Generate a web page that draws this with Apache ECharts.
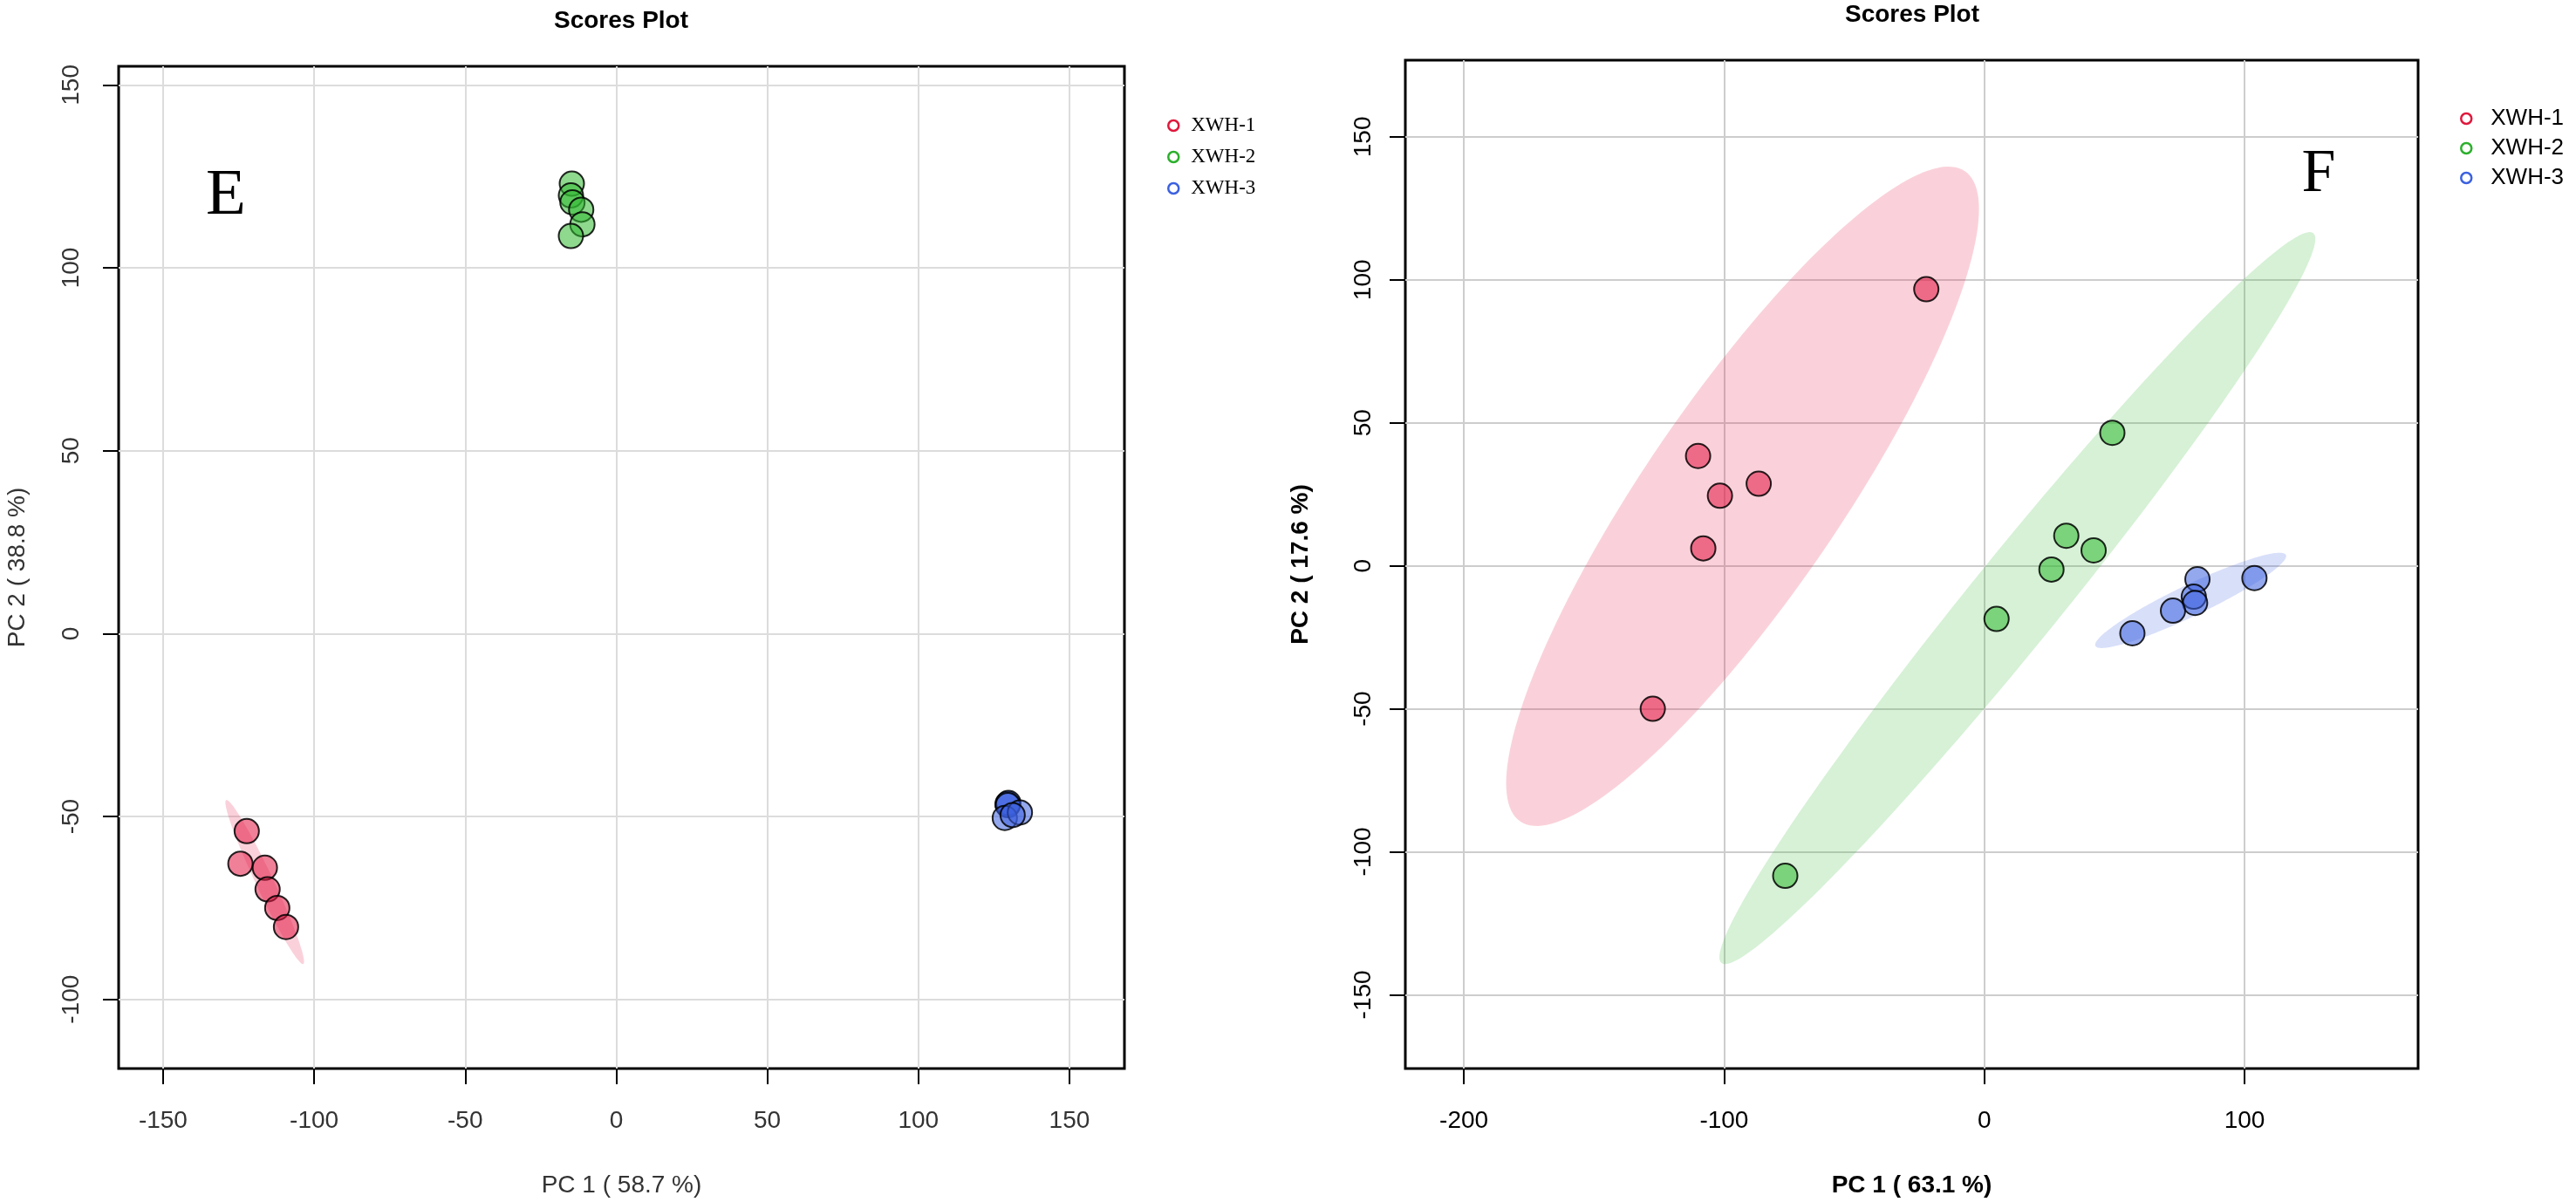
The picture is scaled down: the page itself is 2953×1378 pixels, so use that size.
<!DOCTYPE html>
<html><head><meta charset="utf-8">
<script src="https://cdn.jsdelivr.net/npm/echarts@6/dist/echarts.min.js"></script>
<style>html,body{margin:0;padding:0;background:#fff}#c{width:2953px;height:1378px}</style>
</head><body><div id="c"></div>
<script>
// ---------- data ----------
const groupNames = ['XWH-1', 'XWH-2', 'XWH-3'];

// Panel E  (PC1 58.7 %, PC2 38.8 %)
const E_pc1_XWH1 = [-122.3, -124.4, -116.3, -115.4, -112.2, -109.3];
const E_pc2_XWH1 = [-54.0, -62.9, -64.0, -69.9, -75.0, -80.2];
const E_pc1_XWH2 = [-14.7, -15.0, -14.5, -11.6, -11.2, -15.0];
const E_pc2_XWH2 = [123.0, 119.8, 117.9, 115.9, 111.9, 108.7];
const E_pc1_XWH3 = [129.5, 129.8, 129.6, 128.6, 133.6, 131.2];
const E_pc2_XWH3 = [-46.6, -46.3, -46.9, -50.4, -48.9, -49.6];

// Panel F  (PC1 63.1 %, PC2 17.6 %)
const F_pc1_XWH1 = [-22.3, -110.0, -86.7, -101.6, -108.0, -127.4];
const F_pc2_XWH1 = [96.7, 38.4, 28.7, 24.5, 6.1, -50.0];
const F_pc1_XWH2 = [49.2, 31.5, 42.0, 25.8, 4.7, -76.5];
const F_pc2_XWH2 = [46.5, 10.5, 5.4, -1.3, -18.6, -108.4];
const F_pc1_XWH3 = [103.8, 81.9, 80.5, 81.0, 72.5, 56.9];
const F_pc2_XWH3 = [-4.3, -4.7, -10.8, -13.0, -15.7, -23.6];

// confidence ellipses: [centre PC1, centre PC2, semi-axis1 (dPC1, dPC2), semi-axis2 (dPC1, dPC2)]
const E_ellipse_XWH1 = [-116.35, -67.9, 12.75, -22.4, 2.61, 1.01];
const F_ellipse_XWH1 = [-92.9, 24.3, 85.4, 113.7, 31.0, -19.05];
const F_ellipse_XWH2 = [12.7, -11.3, 113.7, 127.6, 13.5, -9.85];
const F_ellipse_XWH3 = [79.3, -12.1, 36.6, 15.9, 2.63, -4.94];

// tick labels
const E_xTicks = [-150, -100, -50, 0, 50, 100, 150];
const E_yTicks = [-100, -50, 0, 50, 100, 150];
const F_xTicks = [-200, -100, 0, 100];
const F_yTicks = [-150, -100, -50, 0, 50, 100, 150];

// ---------- styles ----------
const ptFill = ['rgba(228,24,68,0.55)', 'rgba(50,186,50,0.55)', 'rgba(60,97,224,0.55)'];
const ellFill = ['rgba(228,24,68,0.2)', 'rgba(50,186,50,0.2)', 'rgba(60,97,224,0.2)'];
const legCol = ['#E0183C', '#2CB02C', '#3C61E0'];

function zip(a, b) { return a.map((v, i) => [v, b[i]]); }

function scatter(name, xs, ys, gi, k) {
  return {
    type: 'scatter', name: name, xAxisIndex: gi, yAxisIndex: gi,
    data: zip(xs, ys), symbol: 'circle', symbolSize: 28, z: 3,
    itemStyle: { color: ptFill[k], borderColor: 'rgba(0,0,0,0.85)', borderWidth: 2, opacity: 1 },
    emphasis: { disabled: true }
  };
}

function ellipse(name, params, gi, k) {
  return {
    type: 'custom', name: name, xAxisIndex: gi, yAxisIndex: gi, z: 1, silent: true, clip: true,
    data: [params], encode: { x: 0, y: 1 },
    renderItem: function (p, api) {
      const cx = api.value(0), cy = api.value(1), ux = api.value(2), uy = api.value(3), vx = api.value(4), vy = api.value(5);
      const pts = [];
      const n = 180;
      for (let i = 0; i < n; i++) {
        const t = i / n * Math.PI * 2;
        pts.push(api.coord([cx + Math.cos(t) * ux + Math.sin(t) * vx, cy + Math.cos(t) * uy + Math.sin(t) * vy]));
      }
      return { type: 'polygon', shape: { points: pts }, style: { fill: ellFill[k], stroke: null } };
    }
  };
}

function xAxisDef(gi, min, max, ticks, name, bold, col, gridCol) {
  return {
    gridIndex: gi, type: 'value', min: min, max: max,
    axisLine: { show: false, onZero: false },
    axisTick: { show: true, inside: false, length: 18, customValues: ticks, lineStyle: { color: '#000', width: 2 } },
    axisLabel: { customValues: ticks, margin: 46, fontSize: 28, color: col, fontFamily: 'Liberation Sans' },
    splitLine: { show: true, lineStyle: { color: gridCol, width: 2 } },
    name: name, nameLocation: 'middle', nameGap: 120,
    nameTextStyle: { fontSize: 28, color: col, fontFamily: 'Liberation Sans', fontWeight: bold ? 'bold' : 'normal' }
  };
}
function yAxisDef(gi, min, max, ticks, name, bold, col, gridCol, margin, gap) {
  return {
    gridIndex: gi, type: 'value', min: min, max: max,
    axisLine: { show: false, onZero: false },
    axisTick: { show: true, inside: false, length: 18, customValues: ticks, lineStyle: { color: '#000', width: 2 } },
    axisLabel: { customValues: ticks, margin: margin, rotate: 90, fontSize: 28, color: col, fontFamily: 'Liberation Sans' },
    splitLine: { show: true, lineStyle: { color: gridCol, width: 2 } },
    name: name, nameLocation: 'middle', nameGap: gap,
    nameTextStyle: { fontSize: 28, color: col, fontFamily: 'Liberation Sans', fontWeight: bold ? 'bold' : 'normal' }
  };
}

function legendDef(left, top, family, size, lh, gap, pad) {
  return {
    left: left, top: top, orient: 'vertical', padding: 0, selectedMode: false,
    itemWidth: 12, itemHeight: 12, itemGap: gap,
    data: groupNames.map((n, i) => ({ name: n, icon: 'circle', itemStyle: { color: 'rgba(255,255,255,0)', borderColor: legCol[i], borderWidth: 2.5 } })),
    textStyle: { fontFamily: family, fontSize: size, color: '#000', lineHeight: lh, padding: [0, 0, 0, pad] }
  };
}

const chart = echarts.init(document.getElementById('c'), null, { renderer: 'canvas' });
chart.setOption({
  animation: false,
  backgroundColor: '#fff',
  grid: [
    { left: 136, top: 76, width: 1153, height: 1153, show: true, borderColor: '#000', borderWidth: 3, backgroundColor: '#fff' },
    { left: 1611, top: 69, width: 1161, height: 1160, show: true, borderColor: '#000', borderWidth: 3, backgroundColor: '#fff' }
  ],
  xAxis: [
    xAxisDef(0, -164.7, 168.2, E_xTicks, 'PC 1 ( 58.7 %)', false, '#333', '#DCDCDC'),
    xAxisDef(1, -222.5, 166.7, F_xTicks, 'PC 1 ( 63.1 %)', true, '#000', '#CDCDCD')
  ],
  yAxis: [
    yAxisDef(0, -118.9, 155.1, E_yTicks, 'PC 2 ( 38.8 %)', false, '#333', '#DCDCDC', 40, 102),
    yAxisDef(1, -175.8, 176.8, F_yTicks, 'PC 2 ( 17.6 %)', true, '#000', '#CDCDCD', 34, 106)
  ],
  legend: [
    legendDef(1338, 132, 'Liberation Serif', 23, 24, 12, 9),
    legendDef(2820, 123, 'Liberation Sans', 26, 26, 8, 17)
  ],
  graphic: [
    { type: 'text', x: 712, y: 24, style: { text: 'Scores Plot', font: 'bold 28px "Liberation Sans"', fill: '#000', align: 'center', verticalAlign: 'middle' } },
    { type: 'text', x: 2192, y: 17, style: { text: 'Scores Plot', font: 'bold 28px "Liberation Sans"', fill: '#000', align: 'center', verticalAlign: 'middle' } },
    { type: 'text', x: 259, y: 225, z: 10, style: { text: 'E', font: '75px "Liberation Serif"', fill: '#000', align: 'center', verticalAlign: 'middle' } },
    { type: 'text', x: 2658, y: 201, z: 10, style: { text: 'F', font: '70px "Liberation Serif"', fill: '#000', align: 'center', verticalAlign: 'middle' } }
  ],
  series: [
    ellipse('E ellipse XWH-1', E_ellipse_XWH1, 0, 0),
    scatter('XWH-1', E_pc1_XWH1, E_pc2_XWH1, 0, 0),
    scatter('XWH-2', E_pc1_XWH2, E_pc2_XWH2, 0, 1),
    scatter('XWH-3', E_pc1_XWH3, E_pc2_XWH3, 0, 2),
    ellipse('F ellipse XWH-1', F_ellipse_XWH1, 1, 0),
    ellipse('F ellipse XWH-2', F_ellipse_XWH2, 1, 1),
    ellipse('F ellipse XWH-3', F_ellipse_XWH3, 1, 2),
    scatter('XWH-1', F_pc1_XWH1, F_pc2_XWH1, 1, 0),
    scatter('XWH-2', F_pc1_XWH2, F_pc2_XWH2, 1, 1),
    scatter('XWH-3', F_pc1_XWH3, F_pc2_XWH3, 1, 2)
  ]
});
</script>
</body></html>
